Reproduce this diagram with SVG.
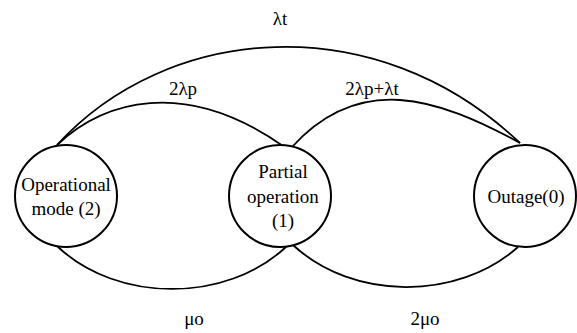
<svg xmlns="http://www.w3.org/2000/svg" width="577" height="333" viewBox="0 0 577 333">
  <style>
    .node circle { fill: #ffffff; stroke: #000000; stroke-width: 2; }
    .edge { fill: none; stroke: #000000; stroke-width: 1.8; }
    text { font-family: "Liberation Serif", "Times New Roman", serif; font-size: 19px; fill: #000000; text-anchor: middle; }
  </style>
  <rect width="577" height="333" fill="#ffffff"/>
  <g id="connectors">
    <path class="edge" d="M57,145 C166.5,24.6 374.5,4.8 520,143"/>
    <path class="edge" d="M57,145 C103,101.3 183.7,76.5 283,146"/>
    <path class="edge" d="M292,147 C359.4,72.9 436.6,97.1 520,143"/>
    <path class="edge" d="M57,246 C117,303.3 227,303.3 287,246"/>
    <path class="edge" d="M293,245 C353,300.7 458,300.7 518,247"/>
  </g>
  <g id="labels">
    <text x="280" y="25">λt</text>
    <text x="183" y="95">2λp</text>
    <text x="372" y="95">2λp+λt</text>
    <text x="194" y="325">μo</text>
    <text x="425" y="325">2μo</text>
  </g>
  <g id="node-operational" class="node">
    <circle cx="66" cy="196" r="51"/>
    <text x="66" y="191">Operational</text>
    <text x="66" y="215">mode (2)</text>
  </g>
  <g id="node-partial" class="node">
    <circle cx="280" cy="196" r="51"/>
    <text x="283" y="178">Partial</text>
    <text x="283" y="203">operation</text>
    <text x="283" y="227">(1)</text>
  </g>
  <g id="node-outage" class="node">
    <circle cx="525" cy="196" r="51"/>
    <text x="526" y="203">Outage(0)</text>
  </g>
</svg>
